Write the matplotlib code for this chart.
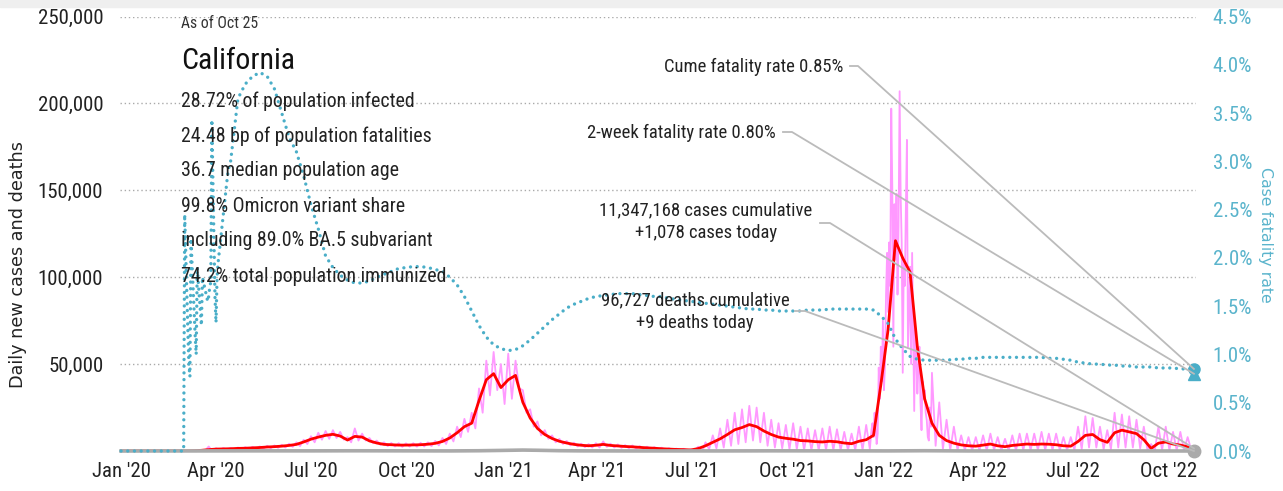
import numpy as np
import matplotlib
matplotlib.use('Agg')
import matplotlib.pyplot as plt
import matplotlib.dates as mdates
from matplotlib import font_manager as fm
from matplotlib.lines import Line2D
from matplotlib.patches import Rectangle

# weekly series (first day of each week from Jan 1 2020, last point Oct 25 2022)
# 7-day average of new cases, thousands
cases_avg = [
    0, 0, 0, 0, 0, 0, 0, 0, 0, 0,
    0.1, 0.4, 0.8, 1.1, 1.2, 1.3, 1.5, 1.6, 1.8, 2.0,
    2.3, 2.5, 2.8, 3.2, 3.8, 5.2, 6.8, 8.0, 9.0, 9.6,
    8.6, 6.3, 8.4, 8.0, 5.8, 4.6, 3.8, 3.6, 3.4, 3.4,
    3.5, 3.6, 3.9, 4.4, 5.5, 7.5, 10.5, 14.0, 16.0, 29.0,
    41.0, 44.5, 36.5, 41.0, 43.5, 28.0, 19.0, 13.0, 9.5, 7.2,
    5.6, 4.6, 3.8, 3.3, 3.0, 3.3, 3.8, 3.2, 2.9, 2.6,
    2.4, 2.1, 1.8, 1.6, 1.3, 1.1, 0.9, 0.8, 0.6, 1.4,
    3.0, 5.0, 7.0, 9.5, 12.2, 13.5, 15.2, 14.0, 11.5, 9.5,
    8.0, 7.3, 6.8, 6.0, 5.8, 5.4, 5.2, 5.6, 5.3, 4.6,
    4.2, 5.6, 6.5, 9.0, 38.0, 70.0, 121.0, 111.0, 103.0, 60.0,
    30.0, 16.0, 9.0, 6.0, 4.5, 3.5, 3.0, 2.8, 3.4, 4.0,
    3.0, 2.5, 3.2, 3.6, 4.0, 3.8, 4.0, 3.9, 3.6, 3.0,
    2.8, 5.5, 9.0, 9.5, 6.5, 5.0, 10.5, 12.0, 11.0, 10.0,
    6.5, 1.5, 4.5, 5.2, 4.0, 3.4, 2.4, 1.5,
]
# daily new cases, high and low report days of each week, thousands
cases_hi = [
    0, 0, 0, 0, 0, 0, 0, 0, 0, 0,
    0.2, 0.6, 2.6, 1.6, 1.7, 1.8, 2.0, 2.2, 2.4, 2.6,
    3.0, 3.2, 3.6, 4.2, 5.0, 6.5, 8.5, 10.5, 11.5, 12.0,
    11.0, 8.0, 13.0, 10.0, 7.5, 6.0, 5.0, 4.6, 4.5, 4.4,
    4.5, 4.7, 5.0, 5.8, 7.5, 10.0, 14.0, 18.5, 22.0, 36.0,
    52.0, 57.0, 50.0, 56.0, 52.0, 35.0, 24.0, 17.0, 12.0, 9.0,
    7.0, 5.8, 4.8, 4.2, 4.0, 4.5, 5.5, 4.2, 3.8, 3.4,
    3.2, 2.8, 2.5, 2.2, 1.9, 1.6, 1.4, 1.3, 1.0, 2.5,
    5.0, 9.0, 13.0, 18.0, 22.0, 24.0, 26.0, 25.0, 22.0, 18.0,
    16.0, 15.0, 16.0, 14.0, 13.0, 12.0, 13.0, 14.0, 12.5, 11.0,
    10.0, 14.0, 15.0, 22.0, 60.0, 197.0, 207.0, 179.0, 114.0, 100.0,
    70.0, 45.0, 28.0, 18.0, 14.0, 9.0, 8.0, 8.0, 9.0, 10.0,
    8.0, 7.0, 9.0, 10.0, 10.0, 10.0, 11.0, 10.0, 10.0, 8.0,
    8.0, 14.0, 20.0, 19.0, 14.0, 12.0, 22.0, 21.0, 20.0, 18.0,
    14.0, 4.0, 14.0, 14.0, 11.0, 11.0, 8.0, 2.0,
]
cases_lo = [
    0, 0, 0, 0, 0, 0, 0, 0, 0, 0,
    0.0, 0.2, 0.0, 0.6, 0.8, 0.9, 1.0, 1.1, 1.3, 1.4,
    1.6, 1.8, 2.0, 2.4, 2.8, 4.0, 5.0, 6.5, 7.0, 7.5,
    6.5, 5.0, 6.0, 6.0, 4.5, 3.5, 2.8, 2.6, 2.4, 2.5,
    2.5, 2.6, 2.8, 3.2, 4.0, 5.5, 8.0, 11.0, 13.0, 22.0,
    32.0, 35.0, 27.0, 30.0, 36.0, 22.0, 14.0, 9.0, 7.0, 5.0,
    4.0, 3.2, 2.6, 2.2, 2.0, 2.0, 2.4, 2.0, 1.8, 1.6,
    1.4, 1.2, 1.0, 0.8, 0.6, 0.5, 0.3, 0.2, 0.0, -1.0,
    1.0, 1.5, 2.0, 3.0, 4.0, 5.0, 6.0, 5.0, 3.0, 2.0,
    1.5, 1.0, 1.0, 0.5, 0.5, 0.5, 0.5, 0.5, 0.5, 0.5,
    0.5, 0.5, 1.0, 2.0, 15.0, 40.0, 50.0, 45.0, 40.0, 25.0,
    8.0, 3.0, 1.0, 0.5, 0.5, 0.5, 0.3, 0.3, 0.3, 0.5,
    0.3, 0.3, 0.3, 0.5, 0.5, 0.5, 0.5, 0.5, 0.5, 0.5,
    0.5, 1.0, 2.0, 2.0, 1.0, 1.0, 2.0, 2.0, 2.0, 1.5,
    0.5, 0.3, 0.5, 0.5, 0.5, 0.5, 0.5, 1.0,
]
# daily new cases through the Omicron wave, Dec 20 2021 - Feb 15 2022, thousands
omicron_daily = [
    12, 16, 8, 22, 14, 4, 10,
    48, 30, 60, 40, 75, 35, 50, 90,
    114, 80, 120, 95, 197, 152, 60, 142,
    110, 148, 90, 130, 207, 148, 120, 45,
    110, 95, 140, 179, 60, 79, 106, 50,
    114, 70, 23, 71, 55, 33, 48, 60,
    28, 12, 40, 30, 35, 22, 18, 8,
    6, 25, 14, 12,
]
# daily deaths
deaths = [
    0, 0, 0, 0, 0, 0, 0, 0, 0, 0,
    1, 5, 15, 30, 60, 80, 85, 80, 75, 70,
    70, 65, 60, 60, 60, 65, 80, 95, 110, 120,
    130, 135, 130, 120, 110, 95, 85, 75, 65, 60,
    55, 50, 45, 45, 45, 50, 60, 75, 100, 150,
    200, 260, 330, 420, 520, 540, 500, 420, 330, 250,
    180, 130, 95, 80, 65, 55, 45, 40, 35, 30,
    28, 25, 22, 20, 18, 16, 15, 15, 15, 18,
    22, 30, 40, 55, 70, 85, 95, 100, 105, 100,
    95, 85, 80, 70, 65, 60, 55, 50, 50, 45,
    45, 45, 45, 45, 50, 60, 90, 120, 150, 170,
    160, 130, 100, 80, 60, 45, 35, 30, 25, 20,
    20, 18, 16, 15, 14, 14, 15, 16, 18, 20,
    22, 25, 30, 35, 38, 40, 42, 42, 40, 38,
    36, 34, 32, 30, 28, 26, 24, 9,
]
# case fatality rate, %: daily from Feb 27 to Apr 14 2020, then weekly
cfr_early = [
    0, 0, 0, 0,
    2.45, 2.05, 1.65, 1.25, 0.9, 0.77,
    2.2, 1.95, 1.7, 1.45, 1.2, 1.0,
    1.9, 1.75, 1.6, 1.45, 1.3,
    1.8, 1.75, 1.7, 1.65, 1.6, 1.55, 1.6, 1.7, 1.75,
    3.43, 2.8, 2.2, 1.6, 1.33,
    1.8, 1.95, 2.05, 2.15, 2.25, 2.35, 2.45, 2.55, 2.65, 2.75,
    2.85, 2.92, 2.97,
]
cfr_weekly = [
    3.0, 3.65, 3.8, 3.88, 3.92,
    3.88, 3.75, 3.5, 3.25, 3.1, 2.85, 2.55, 2.3, 2.02, 1.9,
    1.82, 1.77, 1.74, 1.74, 1.76, 1.8, 1.83, 1.86, 1.89, 1.9,
    1.91, 1.91, 1.9, 1.88, 1.86, 1.8, 1.72, 1.6, 1.45, 1.3,
    1.18, 1.1, 1.06, 1.04, 1.05, 1.09, 1.15, 1.22, 1.29, 1.36,
    1.42, 1.48, 1.52, 1.55, 1.58, 1.6, 1.61, 1.62, 1.63, 1.63,
    1.63, 1.62, 1.61, 1.6, 1.6, 1.58, 1.57, 1.56, 1.55, 1.54,
    1.53, 1.52, 1.51, 1.5, 1.49, 1.48, 1.47, 1.47, 1.46, 1.46,
    1.45, 1.45, 1.45, 1.45, 1.46, 1.46, 1.46, 1.47, 1.47, 1.47,
    1.47, 1.47, 1.47, 1.46, 1.40, 1.32, 1.16, 1.06, 0.98, 0.95,
    0.94, 0.94, 0.94, 0.94, 0.95, 0.95, 0.96, 0.96, 0.97, 0.97,
    0.97, 0.97, 0.97, 0.97, 0.97, 0.97, 0.97, 0.96, 0.96, 0.95,
    0.94, 0.92, 0.91, 0.9, 0.9, 0.89, 0.89, 0.88, 0.88, 0.87,
    0.87, 0.87, 0.86, 0.86, 0.86, 0.85, 0.85, 0.85,
]

cume_cfr = 0.85
twoweek_cfr = 0.80
cases_cum = 11347168
cases_today = 1078
deaths_cum = 96727
deaths_today = 9

state = 'California'
as_of = 'As of Oct 25'
stats_lines = [
    '28.72% of population infected',
    '24.48 bp of population fatalities',
    '36.7 median population age',
    '99.8% Omicron variant share',
    'including 89.0% BA.5 subvariant',
    '74.2% total population immunized',
]

tick_dates = ['2020-01-01', '2020-04-01', '2020-07-01', '2020-10-01',
              '2021-01-01', '2021-04-01', '2021-07-01', '2021-10-01',
              '2022-01-01', '2022-04-01', '2022-07-01', '2022-10-01']
tick_labels = ["Jan '20", "Apr '20", "Jul '20", "Oct '20",
               "Jan '21", "Apr '21", "Jul '21", "Oct '21",
               "Jan '22", "Apr '22", "Jul '22", "Oct '22"]

# ---- pick a condensed face if one is installed
def pick_narrow():
    fam_rank = {'Liberation Sans Narrow': 0, 'Roboto Condensed': 1, 'Roboto': 1,
                'Noto Sans': 2, 'Open Sans': 3, 'DejaVu Sans': 4}
    str_rank = {'condensed': 0, 'semi-condensed': 1, 'extra-condensed': 2}
    best = None
    for f in fm.fontManager.ttflist:
        nm, path = f.name, f.fname.lower()
        st = str(f.stretch)
        cond = ('narrow' in nm.lower() or 'condensed' in nm.lower() or st in str_rank
                or 'condensed' in path or 'narrow' in path)
        if not cond or f.style != 'normal':
            continue
        w = f.weight if isinstance(f.weight, int) else fm.weight_dict.get(f.weight, 400)
        key = (fam_rank.get(nm, 5), abs(w - 400), str_rank.get(st, 1))
        if best is None or key < best[0]:
            best = (key, f.fname)
    return best[1] if best else None

narrow_path = pick_narrow()

def nfont(size):
    if narrow_path:
        return fm.FontProperties(fname=narrow_path, size=size)
    return fm.FontProperties(family='Roboto', size=size)

# ---- dates
end_date = np.datetime64('2022-10-25')
weeks = np.arange(np.datetime64('2020-01-01'), np.datetime64('2022-10-20'), 7)
weeks = np.append(weeks, end_date)
hi_dates = weeks.astype('datetime64[h]')
lo_dates = hi_dates + np.timedelta64(84, 'h')
pink_dates = np.column_stack([hi_dates, lo_dates]).ravel()
pink_vals = np.column_stack([cases_hi, cases_lo]).ravel() * 1000

om_dates = np.arange(np.datetime64('2021-12-20'), np.datetime64('2022-02-16')).astype('datetime64[h]')
keep = (pink_dates < om_dates[0]) | (pink_dates > om_dates[-1])
pink_dates = np.concatenate([pink_dates[keep], om_dates])
pink_vals = np.concatenate([pink_vals[keep], np.array(omicron_daily) * 1000.0])
order = np.argsort(pink_dates)
pink_dates, pink_vals = pink_dates[order], pink_vals[order]

early_dates = np.arange(np.datetime64('2020-02-27'), np.datetime64('2020-04-15'))
cfr_dates = np.concatenate([weeks[:9], early_dates, weeks[15:]])
cfr_vals = np.concatenate([np.zeros(9), cfr_early, cfr_weekly])

CYAN = '#4aaec8'
W, H = 1283, 491

def fx(px):
    return px / W

def fy(py):
    return 1 - py / H

fig = plt.figure(figsize=(W / 100, H / 100), dpi=100)
fig.patches.append(Rectangle((0, fy(7)), 1, 7 / H, transform=fig.transFigure,
                             color='#efefef', zorder=0))

ax = fig.add_axes([fx(120), fy(451), (1196 - 120) / W, (451 - 16.5) / H])
ax2 = ax.twinx()

ax.plot(pink_dates, pink_vals, color='#ff99ff', lw=1.3, zorder=2)
ax.plot(weeks, np.array(cases_avg) * 1000, color='#ff0000', lw=2.0, zorder=3)
ax.plot(weeks, deaths, color='#aaaaaa', lw=2.6, zorder=4, clip_on=False)
ax.plot(end_date, 0, 'o', color='#aaaaaa', ms=9, zorder=5, clip_on=False)

ax2.plot(cfr_dates, cfr_vals, color=CYAN, lw=2.4, ls=(0, (0.01, 2.0)),
         dash_capstyle='round', clip_on=False)
ax2.plot(end_date, twoweek_cfr, '^', color=CYAN, ms=9, clip_on=False)
ax2.plot(end_date, cume_cfr, 'o', color=CYAN, ms=8, clip_on=False)

ax.set_xlim(np.datetime64('2019-12-31'), np.datetime64('2022-10-27'))
ax.set_ylim(0, 250000)
ax2.set_ylim(0, 4.5)

ax.set_xticks([np.datetime64(d) for d in tick_dates])
ax.set_xticklabels(tick_labels)
ax.set_yticks([50000, 100000, 150000, 200000, 250000])
ax.set_yticklabels([f'{v:,}' for v in [50000, 100000, 150000, 200000, 250000]])
ax2.set_yticks(np.arange(0, 4.51, 0.5))
ax2.set_yticklabels([f'{v:.1f}%' for v in np.arange(0, 4.51, 0.5)])

ax.yaxis.grid(True, color='#aaaaaa', ls=(0, (1, 2)), lw=1)
for a in (ax, ax2):
    for s in a.spines.values():
        s.set_visible(False)
    a.tick_params(length=0)
ax.tick_params(axis='y', pad=12, labelcolor='#222222')
ax.tick_params(axis='x', pad=8, labelcolor='#222222')
ax2.tick_params(axis='y', pad=12, labelcolor='#5ab4cc')
for lab in ax.get_xticklabels() + ax.get_yticklabels() + ax2.get_yticklabels():
    lab.set_fontproperties(nfont(15))

fig.text(fx(18), fy(265), 'Daily new cases and deaths', rotation=90,
         ha='center', va='center', fontsize=12.7, color='#222222')
fig.text(fx(1265), fy(235), 'Case fatality rate', rotation=270,
         ha='center', va='center', fontsize=11.3, color='#5ab4cc')

# left text block
fig.text(fx(181), fy(23), as_of, fontproperties=nfont(11.3), color='#333333',
         va='center')
fig.text(fx(181), fy(61), state, fontproperties=nfont(21.5), color='#111111',
         va='center')
for k, line in enumerate(stats_lines):
    fig.text(fx(181), fy(101 + 35 * k), line, fontproperties=nfont(14.3),
             color='#222222', va='center')

# annotations with leader lines
fig.canvas.draw()
to_fig = fig.transFigure.inverted()

def leader(x0, x1, y, axis, value):
    tx, ty = to_fig.transform(axis.transData.transform((mdates.date2num(end_date), value)))
    fig.add_artist(Line2D([fx(x0), fx(x1), tx], [fy(y), fy(y), ty],
                          transform=fig.transFigure, color='#bbbbbb', lw=1.3))

AN = 13.4
fig.text(fx(843), fy(67), f'Cume fatality rate {cume_cfr:.2f}%', fontproperties=nfont(AN),
         ha='right', va='center', color='#222222')
leader(850, 858, 66, ax2, cume_cfr)

fig.text(fx(776), fy(133), f'2-week fatality rate {twoweek_cfr:.2f}%', fontproperties=nfont(AN),
         ha='right', va='center', color='#222222')
leader(783, 792, 132, ax2, twoweek_cfr)

fig.text(fx(706), fy(222), f'{cases_cum:,} cases cumulative\n+{cases_today:,} cases today',
         fontproperties=nfont(AN), ha='center', va='center', color='#222222',
         linespacing=1.35)
leader(820, 830, 223, ax, cases_avg[-1] * 1000)

fig.text(fx(695), fy(312), f'{deaths_cum:,} deaths cumulative\n+{deaths_today} deaths today',
         fontproperties=nfont(AN), ha='center', va='center', color='#222222',
         linespacing=1.35)
leader(795, 805, 311, ax, 0)

fig.savefig('out.png', dpi=100)
